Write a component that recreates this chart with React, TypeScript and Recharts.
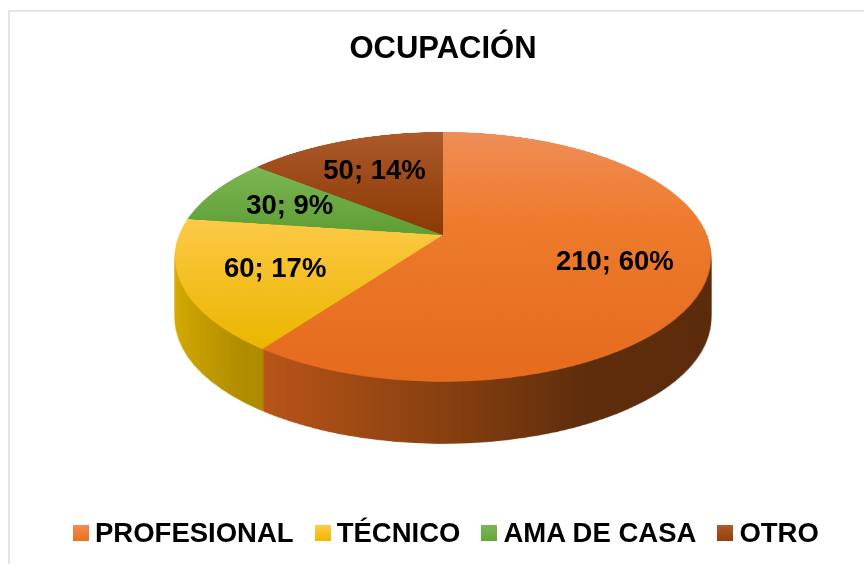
import { PieChart, Pie, Cell, Legend } from "recharts"

const chartTitle = "OCUPACIÓN"
const categories = ["PROFESIONAL", "TÉCNICO", "AMA DE CASA", "OTRO"]
const values = [210, 60, 30, 50]

const data = categories.map((name, i) => ({ name, value: values[i] }))

// swatch colours for the legend (top face of each slice)
const swatches = [
  "linear-gradient(#f08c52, #e8701f)",
  "linear-gradient(#fdca48, #efb700)",
  "linear-gradient(#7db655, #65a63a)",
  "linear-gradient(#ad5a2c, #973f08)",
]

const FONT = "'Liberation Sans', Arial, sans-serif"

// 3d look: a flat pie tilted back with css perspective, rim made of stacked copies
const APEX_X = 443
const APEX_Y = 235
const R = 264
const TILT = 62.7
const PERSP = 1342
const DISC_CY = 300
const DISC_H = 600
const DEPTH = 62
const STEP = 2
const rimOffsets = Array.from({ length: DEPTH / STEP }, (_, i) => DEPTH - i * STEP)

const RAD = Math.PI / 180
const SIN_T = Math.sin(TILT * RAD)
const COS_T = Math.cos(TILT * RAD)

function renderLabel(props: any) {
  const { cx, cy, midAngle, outerRadius, value, percent } = props
  // point on the flat disc, then projected like the css transform does
  const px = outerRadius * 0.66 * Math.cos(-midAngle * RAD)
  const pv = outerRadius * 0.66 * Math.sin(-midAngle * RAD)
  const k = PERSP / (PERSP - pv * SIN_T)
  const x = cx + px * k
  const y = cy + pv * COS_T * k
  return (
    <text
      x={x}
      y={y}
      textAnchor="middle"
      dominantBaseline="central"
      fontFamily={FONT}
      fontWeight={700}
      fontSize={27.5}
      fill="#000"
    >
      {`${value}; ${Math.round(percent * 100)}%`}
    </text>
  )
}

function renderLegend(props: any) {
  const payload = [...(props.payload || [])].sort(
    (a: any, b: any) => categories.indexOf(a.value) - categories.indexOf(b.value)
  )
  return (
    <div style={{ display: "flex", alignItems: "center", gap: 21, lineHeight: "normal" }}>
      {payload.map((entry: any) => {
        const idx = categories.indexOf(entry.value)
        return (
          <div key={entry.value} style={{ display: "flex", alignItems: "center" }}>
            <div style={{ width: 16, height: 16, marginRight: 6, background: swatches[idx] }} />
            <span style={{ fontFamily: FONT, fontWeight: 700, fontSize: 27.5, color: "#000", whiteSpace: "nowrap" }}>
              {entry.value}
            </span>
          </div>
        )
      })}
    </div>
  )
}

function Gradients() {
  return (
    <defs>
      <linearGradient id="top0" x1="0" y1="0" x2="0" y2="1">
        <stop offset="0" stopColor="#ef8e57" />
        <stop offset="0.45" stopColor="#ee7b2d" />
        <stop offset="1" stopColor="#e56b1d" />
      </linearGradient>
      <linearGradient id="top1" x1="0" y1="0" x2="0" y2="1">
        <stop offset="0" stopColor="#fdca4a" />
        <stop offset="1" stopColor="#ebb600" />
      </linearGradient>
      <linearGradient id="top2" x1="0" y1="0" x2="0" y2="1">
        <stop offset="0" stopColor="#7cb654" />
        <stop offset="1" stopColor="#5e9e34" />
      </linearGradient>
      <linearGradient id="top3" x1="0" y1="0" x2="0" y2="1">
        <stop offset="0" stopColor="#ad5a2c" />
        <stop offset="1" stopColor="#8c3a04" />
      </linearGradient>
      <linearGradient id="side0" gradientUnits="userSpaceOnUse" x1={APEX_X - R} y1="0" x2={APEX_X + R} y2="0">
        <stop offset="0" stopColor="#d5621f" />
        <stop offset="0.16" stopColor="#c0571b" />
        <stop offset="0.5" stopColor="#88400f" />
        <stop offset="0.72" stopColor="#5f2d0c" />
        <stop offset="1" stopColor="#5a2a0a" />
      </linearGradient>
      <linearGradient id="side1" gradientUnits="userSpaceOnUse" x1={APEX_X - R} y1="0" x2={APEX_X + R} y2="0">
        <stop offset="0" stopColor="#d9ad00" />
        <stop offset="0.17" stopColor="#b08c00" />
        <stop offset="1" stopColor="#7a6000" />
      </linearGradient>
      <linearGradient id="side2" gradientUnits="userSpaceOnUse" x1={APEX_X - R} y1="0" x2={APEX_X + R} y2="0">
        <stop offset="0" stopColor="#5a962f" />
        <stop offset="1" stopColor="#3f6e20" />
      </linearGradient>
      <linearGradient id="side3" gradientUnits="userSpaceOnUse" x1={APEX_X - R} y1="0" x2={APEX_X + R} y2="0">
        <stop offset="0" stopColor="#8a3c08" />
        <stop offset="1" stopColor="#5e2804" />
      </linearGradient>
    </defs>
  )
}

function Disc({ face, dy }: { face: "top" | "side"; dy: number }) {
  return (
    <div
      style={{
        position: "absolute",
        left: 0,
        top: APEX_Y - DISC_CY + dy,
        transformOrigin: `${APEX_X}px ${DISC_CY}px`,
        transform: `perspective(${PERSP}px) rotateX(${TILT}deg)`,
      }}
    >
      <PieChart width={864} height={DISC_H} margin={{ top: 0, right: 0, bottom: 0, left: 0 }}>
        {face === "top" && <Gradients />}
        <Pie
          data={data}
          dataKey="value"
          nameKey="name"
          cx={APEX_X}
          cy={DISC_CY}
          outerRadius={R}
          startAngle={90}
          endAngle={-270}
          stroke="none"
          isAnimationActive={false}
        >
          {data.map((_, i) => (
            <Cell key={i} fill={`url(#${face}${i})`} stroke="none" />
          ))}
        </Pie>
      </PieChart>
    </div>
  )
}

export default function App() {
  return (
    <div
      style={{
        position: "absolute",
        left: 0,
        top: 0,
        width: 864,
        height: 564,
        overflow: "hidden",
        background: "#fff",
      }}
    >
      <div
        style={{
          position: "absolute",
          left: 8,
          top: 10,
          width: 900,
          height: 600,
          border: "2px solid #e2e6ec",
        }}
      />
      {rimOffsets.map((d) => (
        <Disc key={d} face="side" dy={d} />
      ))}
      <Disc face="top" dy={0} />
      <div style={{ position: "absolute", left: 0, top: 0 }}>
        <PieChart width={864} height={564} margin={{ top: 0, right: 0, bottom: 0, left: 0 }}>
          <text
            x={APEX_X}
            y={58}
            textAnchor="middle"
            fontFamily={FONT}
            fontWeight={700}
            fontSize={31}
            fill="#000"
          >
            {chartTitle}
          </text>
          <Pie
            data={data}
            dataKey="value"
            nameKey="name"
            cx={APEX_X}
            cy={APEX_Y}
            outerRadius={R}
            startAngle={90}
            endAngle={-270}
            fill="transparent"
            stroke="none"
            label={renderLabel}
            labelLine={false}
            isAnimationActive={false}
          >
            {data.map((_, i) => (
              <Cell key={i} fill="transparent" stroke="none" />
            ))}
          </Pie>
          <Legend
            content={renderLegend}
            wrapperStyle={{ position: "absolute", left: 73, top: 517, width: "auto" }}
          />
        </PieChart>
      </div>
    </div>
  )
}
